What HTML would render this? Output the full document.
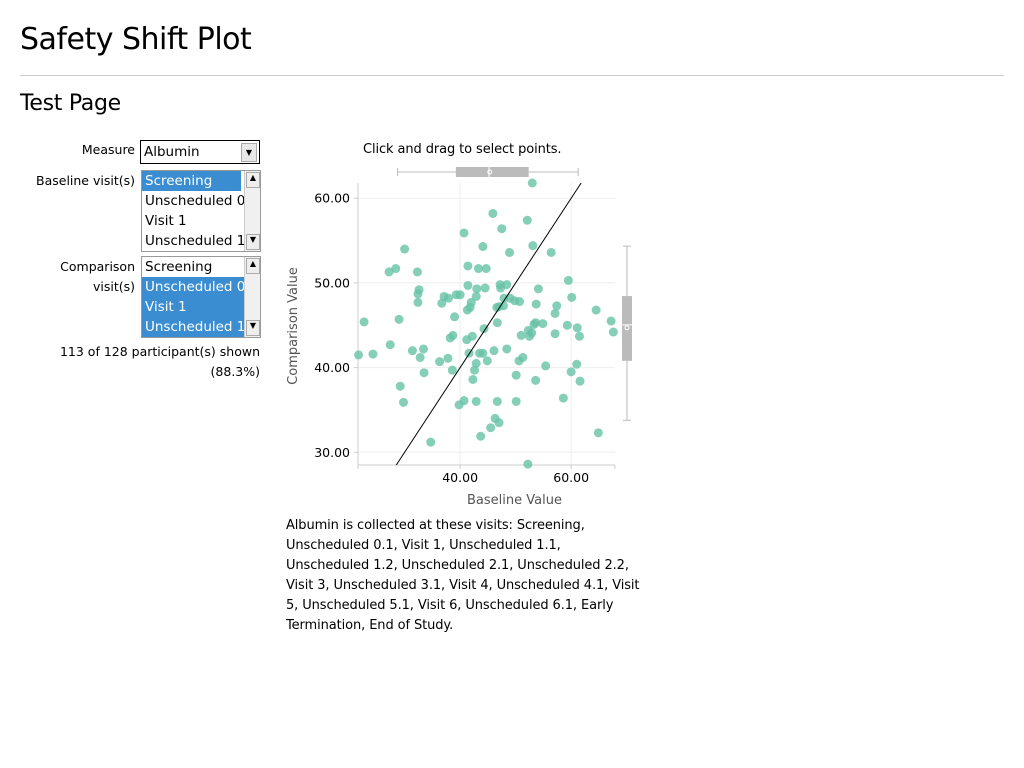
<!DOCTYPE html>
<html><head><meta charset="utf-8">
<style>
body{margin:0;background:#fff;font-family:"DejaVu Sans","Liberation Sans",sans-serif;color:#000;width:1024px;height:768px;overflow:hidden;position:relative}
.abs{position:absolute}
h1{position:absolute;left:20px;top:22px;margin:0;font-weight:normal;font-size:30px;font-family:"DejaVu Sans",sans-serif;letter-spacing:-0.5px}
h2{position:absolute;left:20px;top:91px;margin:0;font-weight:normal;font-size:22px;letter-spacing:-0.3px}
.lbl{font-size:12.5px;text-align:right;line-height:20px}
.box{border:1px solid #999;background:#fff;font-size:13.5px;overflow:hidden}
.opt{height:20px;line-height:20px;padding-left:3px;white-space:nowrap}
.sel{background:#3a8dd0;color:#fff}
.sb{position:absolute;right:0;top:0;width:15px;height:100%;background:#f0f0f0;border-left:1px solid #ccc}
.note{font-size:13px;line-height:20px;letter-spacing:-0.1px}
</style></head><body>
<h1>Safety Shift Plot</h1>
<div class="abs" style="left:20px;top:75px;width:984px;height:1px;background:#ccc"></div>
<h2>Test Page</h2>

<div class="abs lbl" style="left:20px;top:140px;width:115px">Measure</div>
<div class="abs box" style="left:140px;top:140px;width:118px;height:22px;border:1px solid #000">
 <div class="opt" style="line-height:22px">Albumin</div>
 <div class="sb" style="width:14px;top:2px;height:17px;right:2px;background:#e8e8e8;border:1px solid #aaa;font-size:8px;text-align:center;line-height:17px">▼</div>
</div>

<div class="abs lbl" style="left:20px;top:171px;width:115px">Baseline visit(s)</div>
<div class="abs box" style="left:141px;top:170px;width:118px;height:80px">
 <div class="opt sel" style="width:96px">Screening</div>
 <div class="opt">Unscheduled 0.1</div>
 <div class="opt">Visit 1</div>
 <div class="opt">Unscheduled 1.1</div>
 <div class="sb"><div style="position:absolute;top:1px;left:1px;width:12px;height:14px;font-size:8px;text-align:center;border:1px solid #aaa;background:#eee">▲</div><div style="position:absolute;bottom:1px;left:1px;width:12px;height:14px;font-size:8px;text-align:center;border:1px solid #aaa;background:#eee">▼</div></div>
</div>

<div class="abs lbl" style="left:20px;top:257px;width:115px">Comparison<br>visit(s)</div>
<div class="abs box" style="left:141px;top:256px;width:118px;height:80px">
 <div class="opt">Screening</div>
 <div class="opt sel">Unscheduled 0.1</div>
 <div class="opt sel">Visit 1</div>
 <div class="opt sel">Unscheduled 1.1</div>
 <div class="sb"><div style="position:absolute;top:1px;left:1px;width:12px;height:14px;font-size:8px;text-align:center;border:1px solid #aaa;background:#eee">▲</div><div style="position:absolute;bottom:1px;left:1px;width:12px;height:14px;font-size:8px;text-align:center;border:1px solid #aaa;background:#eee">▼</div></div>
</div>

<div class="abs lbl" style="left:20px;top:342px;width:240px">113 of 128 participant(s) shown<br>(88.3%)</div>

<div class="abs note" style="left:363px;top:140px">Click and drag to select points.</div>

<svg class="abs" style="left:0;top:0" width="1024" height="768" id="chart"></svg>

<div class="abs note" style="left:286px;top:516px;width:380px">Albumin is collected at these visits: Screening,<br>Unscheduled 0.1, Visit 1, Unscheduled 1.1,<br>Unscheduled 1.2, Unscheduled 2.1, Unscheduled 2.2,<br>Visit 3, Unscheduled 3.1, Visit 4, Unscheduled 4.1, Visit<br>5, Unscheduled 5.1, Visit 6, Unscheduled 6.1, Early<br>Termination, End of Study.</div>

<script>
const baselineValues=[53.0,21.7,22.7,24.3,27.2,28.4,27.4,29.0,30.0,29.2,29.8,31.4,32.3,32.6,32.4,32.4,32.8,33.4,33.5,34.7,36.3,36.7,37.1,37.9,37.8,38.6,38.2,38.7,39.0,39.3,40.0,39.8,40.7,40.7,41.4,41.4,41.3,41.8,42.0,41.2,41.6,42.2,42.3,42.6,42.9,42.9,42.9,43.0,43.3,43.7,43.5,44.1,44.1,44.5,44.7,44.3,44.9,46.1,45.9,46.7,46.6,47.0,47.5,47.2,47.3,47.9,47.8,48.4,48.4,46.7,46.3,47.0,45.5,48.9,49.0,49.8,50.7,50.1,50.1,50.6,51.3,51.0,52.1,52.3,52.5,52.9,53.1,53.3,53.6,53.7,54.1,53.6,52.2,54.9,55.4,56.4,57.1,57.4,57.1,58.6,59.3,59.5,60.1,60.0,61.0,61.1,61.5,61.6,64.5,64.9,67.2,67.6];
const comparisonValues=[61.8,41.5,45.4,41.6,51.3,51.7,42.7,45.7,54.0,37.8,35.9,42.0,51.3,49.2,48.7,47.7,41.2,42.2,39.4,31.2,40.7,47.6,48.4,48.2,41.1,39.7,43.5,43.8,46.0,48.6,48.6,35.6,36.1,55.9,52.0,49.7,46.8,47.1,47.7,43.3,41.7,43.7,38.6,39.7,40.5,36.0,48.4,49.3,51.7,31.9,41.7,41.7,54.3,49.4,51.7,44.6,40.8,42.0,58.2,45.3,47.1,47.2,56.4,49.8,49.4,48.2,47.3,49.8,42.2,36.0,34.0,33.5,32.9,53.6,48.2,47.9,47.8,36.0,39.1,40.8,41.2,43.8,57.4,44.4,43.7,44.1,54.4,45.1,45.3,47.5,49.3,38.5,28.6,45.2,40.2,53.6,46.4,47.3,44.0,36.4,45.0,50.3,48.3,39.5,40.4,44.7,43.7,38.4,46.8,32.3,45.5,44.2];
const xTicks=[40,60];
const yTicks=[30,40,50,60];
const xDomain=[21.6,67.9], yDomain=[28.5,61.8];
const L=358,R=615,T=183,B=465;
const sx=v=>L+(v-xDomain[0])/(xDomain[1]-xDomain[0])*(R-L);
const sy=v=>B-(v-yDomain[0])/(yDomain[1]-yDomain[0])*(B-T);
const svg=document.getElementById('chart');
const NS='http://www.w3.org/2000/svg';
function mk(t,a,p){const e=document.createElementNS(NS,t);for(const k in a)e.setAttribute(k,a[k]);(p||svg).appendChild(e);return e;}
xTicks.forEach(t=>{const g=mk('line',{x1:sx(t),x2:sx(t),y1:T,y2:B,stroke:'#eee'});


const lb=mk('text',{x:sx(t),y:B+17,'text-anchor':'middle','font-size':'12.5','font-family':'DejaVu Sans,sans-serif'});lb.textContent=t.toFixed(2);


mk('line',{x1:sx(t),x2:sx(t),y1:B,y2:B+4,stroke:'#ccc'});});
yTicks.forEach(t=>{const g=mk('line',{x1:L,x2:R,y1:sy(t),y2:sy(t),stroke:'#eee'});


const lb=mk('text',{x:L-8,y:sy(t)+4.5,'text-anchor':'end','font-size':'12.5','font-family':'DejaVu Sans,sans-serif'});lb.textContent=t.toFixed(2);


mk('line',{x1:L-4,x2:L,y1:sy(t),y2:sy(t),stroke:'#ccc'});});
const xa=mk('line',{x1:L,x2:R,y1:B,y2:B,stroke:'#ccc'});


mk('line',{x1:R,x2:R,y1:B,y2:B+4,stroke:'#ccc'});
mk('line',{x1:L,x2:L,y1:B,y2:B+4,stroke:'#ccc'});
const ya=mk('line',{x1:L,x2:L,y1:T,y2:B,stroke:'#ccc'});


const xt=mk('text',{x:(L+R)/2+28,y:504,'text-anchor':'middle','font-size':'13','fill':'#555','font-family':'DejaVu Sans,sans-serif'});xt.textContent='Baseline Value';


const yt=mk('text',{x:0,y:0,'text-anchor':'middle','font-size':'13','fill':'#555','font-family':'DejaVu Sans,sans-serif',transform:`translate(297,${(T+B)/2+2}) rotate(-90)`});yt.textContent='Comparison Value';


baselineValues.forEach((b,i)=>{const c=mk('circle',{cx:sx(b),cy:sy(comparisonValues[i]),r:4.5,fill:'#66c2a5','fill-opacity':0.8});

});
const lo=Math.max(xDomain[0],yDomain[0]),hi=Math.min(xDomain[1],yDomain[1]);
const id=mk('line',{x1:sx(lo),y1:sy(lo),x2:sx(hi),y2:sy(hi),stroke:'#000','stroke-width':1});


function quant(a,q){const s=[...a].sort((x,y)=>x-y);const p=(s.length-1)*q,f=Math.floor(p);return s[f]+(s[Math.min(f+1,s.length-1)]-s[f])*(p-f);}
function stats(a){return {lo:quant(a,.05),q1:quant(a,.25),med:quant(a,.5),q3:quant(a,.75),hi:quant(a,.95),mean:a.reduce((x,y)=>x+y,0)/a.length};}
const bx=stats(baselineValues),by=stats(comparisonValues);
const gx=mk('g',{});


const yb=172;
mk('line',{x1:sx(bx.lo),x2:sx(bx.hi),y1:yb,y2:yb,stroke:'#bbb'},gx);
mk('line',{x1:sx(bx.lo),x2:sx(bx.lo),y1:yb-4,y2:yb+4,stroke:'#bbb'},gx);
mk('line',{x1:sx(bx.hi),x2:sx(bx.hi),y1:yb-4,y2:yb+4,stroke:'#bbb'},gx);
mk('rect',{x:sx(bx.q1),y:yb-5,width:sx(bx.q3)-sx(bx.q1),height:10,fill:'#bbb'},gx);
mk('line',{x1:sx(bx.med),x2:sx(bx.med),y1:yb-5,y2:yb+5,stroke:'#fff'},gx);
mk('circle',{cx:sx(bx.mean),cy:yb,r:2,fill:'none',stroke:'#fff'},gx);
const gy=mk('g',{});


const xb=627;
mk('line',{y1:sy(by.lo),y2:sy(by.hi),x1:xb,x2:xb,stroke:'#bbb'},gy);
mk('line',{y1:sy(by.lo),y2:sy(by.lo),x1:xb-4,x2:xb+4,stroke:'#bbb'},gy);
mk('line',{y1:sy(by.hi),y2:sy(by.hi),x1:xb-4,x2:xb+4,stroke:'#bbb'},gy);
mk('rect',{y:sy(by.q3),x:xb-5,height:sy(by.q1)-sy(by.q3),width:10,fill:'#bbb'},gy);
mk('line',{y1:sy(by.med),y2:sy(by.med),x1:xb-5,x2:xb+5,stroke:'#fff'},gy);
mk('circle',{cy:sy(by.mean),cx:xb,r:2,fill:'none',stroke:'#fff'},gy);
</script>
</body></html>
